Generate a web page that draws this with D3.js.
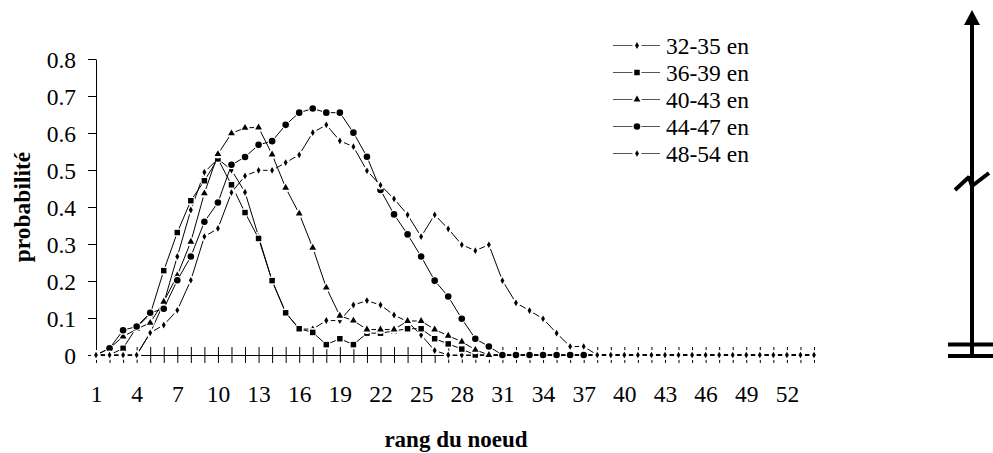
<!DOCTYPE html>
<html>
<head>
<meta charset="utf-8">
<script src="https://cdn.jsdelivr.net/npm/d3@7"></script>
<style>
  body { margin: 0; background: #fff; }
  svg { display: block; }
</style>
</head>
<body>
<svg id="chart" width="993" height="453"></svg>
<script>
// rang du noeud 1..54
const categories = d3.range(1, 55);
const tickLabels = [1, 4, 7, 10, 13, 16, 19, 22, 25, 28, 31, 34, 37, 40, 43, 46, 49, 52];
const yTicks = [0, 0.1, 0.2, 0.3, 0.4, 0.5, 0.6, 0.7, 0.8];
const seriesNames = ["32-35 en", "36-39 en", "40-43 en", "44-47 en", "48-54 en"];

const s32 = [0, 0, 0, 0, 0.06, 0.14, 0.266, 0.392, 0.494, 0.53,
  0.50, 0.44, 0.32, 0.20, 0.115, 0.07, 0.07, 0.093, 0.093, 0.135,
  0.147, 0.135, 0.108, 0.09, 0.054, 0.012, 0, 0, 0, 0,
  0, 0, 0, 0, 0, 0, 0, 0, 0, 0, 0, 0, 0, 0, 0, 0, 0, 0, 0, 0, 0, 0, 0, 0];
const s36 = [0, 0, 0.018, 0.075, 0.11, 0.228, 0.331, 0.417, 0.471, 0.53,
  0.46, 0.385, 0.315, 0.201, 0.114, 0.071, 0.061, 0.028, 0.044, 0.028,
  0.059, 0.059, 0.065, 0.071, 0.071, 0.044, 0.03, 0.016, 0, 0,
  0, 0, 0, 0, 0, 0, 0, 0, 0, 0, 0, 0, 0, 0, 0, 0, 0, 0, 0, 0, 0, 0, 0, 0];
const s40 = [0, 0.018, 0.05, 0.07, 0.087, 0.144, 0.215, 0.306, 0.437, 0.543,
  0.599, 0.614, 0.615, 0.542, 0.452, 0.382, 0.29, 0.182, 0.106, 0.093,
  0.069, 0.069, 0.069, 0.092, 0.092, 0.069, 0.052, 0.036, 0.014, 0,
  0, 0, 0, 0, 0, 0, 0, 0, 0, 0, 0, 0, 0, 0, 0, 0, 0, 0, 0, 0, 0, 0, 0, 0];
const s44 = [0, 0.018, 0.067, 0.077, 0.114, 0.125, 0.202, 0.266, 0.36, 0.412,
  0.514, 0.535, 0.568, 0.578, 0.622, 0.655, 0.666, 0.655, 0.655, 0.601,
  0.536, 0.446, 0.38, 0.326, 0.266, 0.201, 0.158, 0.098, 0.044, 0.023,
  0, 0, 0, 0, 0, 0, 0, 0, 0, 0, 0, 0, 0, 0, 0, 0, 0, 0, 0, 0, 0, 0, 0, 0];
const s48 = [0, 0, 0, 0, 0.06, 0.081, 0.121, 0.202, 0.32, 0.342,
  0.439, 0.484, 0.499, 0.499, 0.52, 0.541, 0.601, 0.622, 0.579, 0.563,
  0.498, 0.459, 0.422, 0.379, 0.32, 0.379, 0.341, 0.298, 0.282, 0.298,
  0.201, 0.141, 0.12, 0.098, 0.059, 0.023, 0.023, 0, 0, 0,
  0, 0, 0, 0, 0, 0, 0, 0, 0, 0, 0, 0, 0, 0];

const allSeries = [s32, s36, s40, s44, s48];
// marker per series
const symbols = [
  d3.symbol().type(d3.symbolDiamond).size(14),
  d3.symbol().type(d3.symbolSquare).size(30),
  d3.symbol().type(d3.symbolTriangle).size(20),
  d3.symbol().type(d3.symbolCircle).size(34),
  d3.symbol().type(d3.symbolDiamond).size(13)
];

const serif = "'Times New Roman', 'Liberation Serif', 'DejaVu Serif', serif";
const svg = d3.select("#chart");
const fs = 23.5;

const x = d3.scalePoint().domain(categories).range([96, 814]);
const y = d3.scaleLinear().domain([0, 0.8]).range([355, 59]);

// y axis
const yAxis = svg.append("g")
  .attr("transform", "translate(96,0)")
  .call(d3.axisLeft(y).tickValues(yTicks).tickSize(8).tickSizeOuter(0).tickPadding(12)
    .tickFormat(d => d === 0 ? "0" : d3.format(".1f")(d)));
yAxis.attr("font-family", serif).attr("font-size", fs);
yAxis.selectAll("text").attr("dy", "0.34em");

// x axis, ticks cross the line
const xAxis = svg.append("g")
  .attr("transform", "translate(0,355)")
  .call(d3.axisBottom(x).tickValues(categories).tickSize(8).tickSizeOuter(0).tickPadding(30)
    .tickFormat(d => tickLabels.includes(d) ? d : ""));
xAxis.attr("font-family", serif).attr("font-size", fs);
xAxis.selectAll(".tick line").attr("y1", -8);
xAxis.selectAll("text").attr("y", 30).attr("dy", "0.71em");
svg.selectAll(".domain, .tick line").attr("stroke", "#000");

// titles
svg.append("text")
  .attr("x", 456).attr("y", 447)
  .attr("text-anchor", "middle")
  .attr("font-family", serif).attr("font-size", 23).attr("font-weight", "bold")
  .text("rang du noeud");
svg.append("text")
  .attr("transform", "translate(30,207) rotate(-90)")
  .attr("text-anchor", "middle")
  .attr("font-family", serif).attr("font-size", 23.5).attr("font-weight", "bold")
  .text("probabilité");

// series
const line = d3.line().x((d, i) => x(categories[i])).y(d => y(d));
allSeries.forEach((vals, k) => {
  const g = svg.append("g");
  g.append("path")
    .attr("d", line(vals))
    .attr("fill", "none")
    .attr("stroke", "#000")
    .attr("stroke-width", 1);
  const pts = g.selectAll("g.pt")
    .data(vals)
    .join("g")
    .attr("transform", (d, i) => `translate(${x(categories[i])},${y(d)})`);
  pts.append("circle").attr("r", 4.5).attr("fill", "#fff");
  pts.append("path").attr("d", symbols[k]()).attr("fill", "#000");
});

// legend
const legend = svg.append("g");
seriesNames.forEach((name, k) => {
  const ly = 45 + k * 27;
  legend.append("line")
    .attr("x1", 613).attr("x2", 660).attr("y1", ly + 0.5).attr("y2", ly + 0.5)
    .attr("stroke", "#555").attr("stroke-width", 1);
  legend.append("circle").attr("cx", 637).attr("cy", ly + 0.5).attr("r", 4.5).attr("fill", "#fff");
  legend.append("path")
    .attr("transform", `translate(637,${ly + 0.5})`)
    .attr("d", symbols[k]()).attr("fill", "#000");
  legend.append("text")
    .attr("x", 666).attr("y", ly + 9)
    .attr("font-family", serif).attr("font-size", fs)
    .text(name);
});

// axis-break sketch on the right
const deco = svg.append("g").attr("stroke", "#000").attr("stroke-width", 4).attr("fill", "none");
deco.append("line").attr("x1", 972).attr("x2", 972).attr("y1", 22).attr("y2", 356);
svg.append("path").attr("d", "M972,10 L980,25 L964,25 Z").attr("fill", "#000");
deco.append("path").attr("d", "M955,190 L969,177 L972,186 L989,173").attr("stroke-linejoin", "bevel");
deco.append("line").attr("x1", 948).attr("x2", 993).attr("y1", 344.5).attr("y2", 344.5);
deco.append("line").attr("x1", 948).attr("x2", 993).attr("y1", 356).attr("y2", 356);
</script>
</body>
</html>
